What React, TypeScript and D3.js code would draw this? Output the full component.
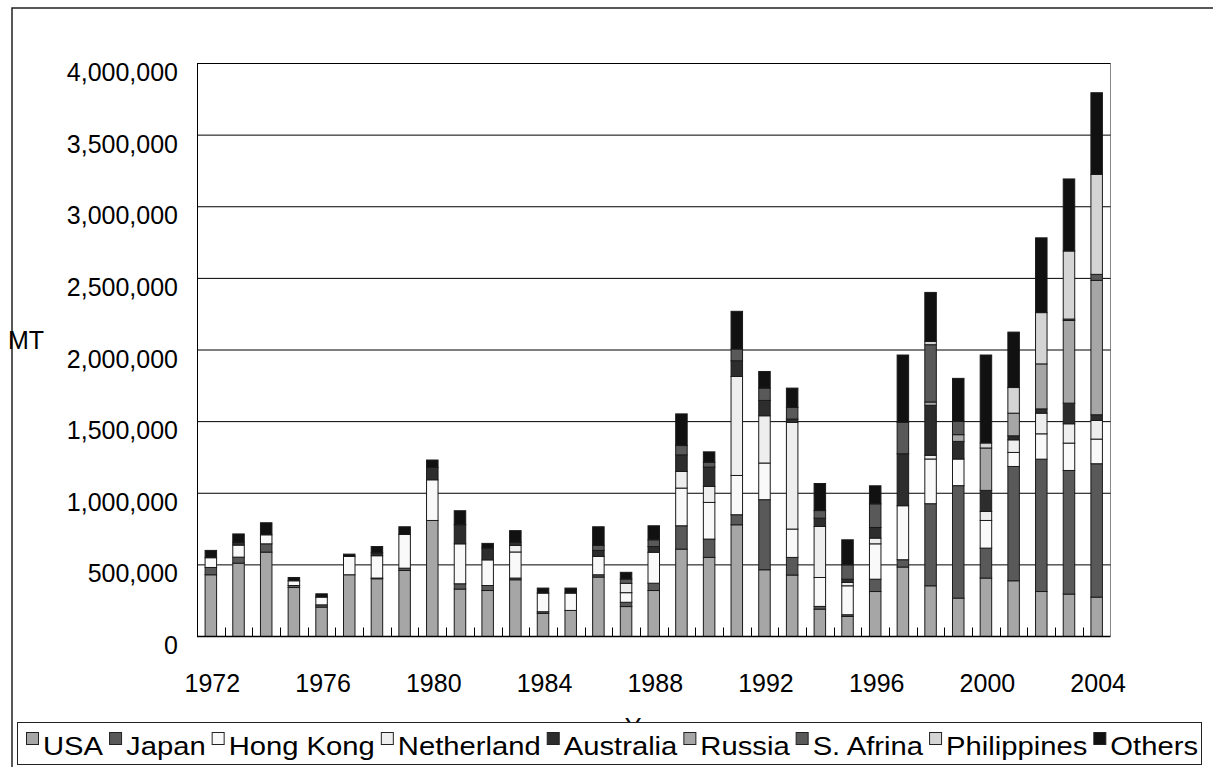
import React, { useRef, useEffect } from 'react';
import * as d3 from 'd3';

// years on the category axis
const years = d3.range(1972, 2005).map(String);
const yearLabels = ['1972', '1976', '1980', '1984', '1988', '1992', '1996', '2000', '2004'];
const yTicks = [0, 500000, 1000000, 1500000, 2000000, 2500000, 3000000, 3500000, 4000000];

const seriesNames = ['USA', 'Japan', 'Hong Kong', 'Netherland', 'Australia', 'Russia', 'S. Afrina', 'Philippines', 'Others'];
const seriesColors = ['#a6a6a6', '#595959', '#f9f9f9', '#eeeeee', '#2d2d2d', '#a6a6a6', '#595959', '#d4d4d4', '#111111'];

// values in MT, 1972..2004
const usa = [431000, 512000, 589000, 342000, 205000, 431000, 403000, 461000, 810000, 331000, 321000, 396000, 161000, 182000, 415000, 209000, 321000, 610000, 552000, 780000, 466000, 429000, 191000, 140000, 314000, 485000, 354000, 268000, 408000, 389000, 314000, 296000, 275000];
const japan = [51000, 42000, 58000, 14000, 16000, 0, 5000, 16000, 0, 37000, 35000, 12000, 12000, 0, 16000, 30000, 51000, 163000, 128000, 70000, 489000, 123000, 19000, 12000, 86000, 51000, 573000, 785000, 209000, 798000, 924000, 863000, 931000];
const hongKong = [68000, 84000, 63000, 33000, 54000, 128000, 156000, 235000, 284000, 279000, 179000, 182000, 130000, 121000, 128000, 67000, 216000, 263000, 256000, 274000, 256000, 198000, 202000, 202000, 247000, 377000, 312000, 186000, 193000, 98000, 177000, 191000, 172000];
const netherland = [0, 0, 0, 0, 0, 0, 0, 0, 0, 0, 0, 46000, 0, 0, 0, 65000, 0, 116000, 112000, 691000, 330000, 745000, 356000, 23000, 40000, 0, 26000, 0, 63000, 88000, 144000, 135000, 130000];
const australia = [0, 19000, 0, 0, 0, 0, 20000, 0, 86000, 133000, 82000, 21000, 0, 0, 42000, 0, 40000, 116000, 135000, 110000, 107000, 23000, 58000, 23000, 74000, 363000, 349000, 123000, 147000, 28000, 30000, 144000, 40000];
const russia = [0, 0, 0, 0, 0, 0, 0, 0, 0, 0, 0, 0, 0, 0, 0, 0, 0, 0, 0, 0, 0, 0, 0, 0, 0, 0, 23000, 47000, 296000, 158000, 314000, 577000, 938000];
const sAfrina = [0, 0, 0, 0, 0, 0, 0, 0, 0, 0, 0, 0, 0, 0, 35000, 30000, 47000, 65000, 33000, 82000, 86000, 81000, 53000, 100000, 165000, 219000, 400000, 93000, 0, 0, 0, 10000, 42000];
const philippines = [0, 0, 0, 0, 0, 0, 0, 0, 0, 0, 0, 0, 0, 0, 0, 0, 0, 0, 0, 0, 0, 0, 0, 0, 0, 0, 23000, 0, 35000, 179000, 358000, 475000, 698000];
const others = [51000, 59000, 84000, 23000, 23000, 16000, 44000, 54000, 52000, 98000, 33000, 82000, 35000, 35000, 130000, 47000, 98000, 221000, 73000, 263000, 116000, 135000, 189000, 175000, 126000, 470000, 342000, 300000, 614000, 387000, 522000, 503000, 570000];

const seriesValues = [usa, japan, hongKong, netherland, australia, russia, sAfrina, philippines, others];

const W = 1213;
const H = 767;
const FONT = '"Liberation Sans", Arial, sans-serif';

const App = () => {
  const svgRef = useRef<SVGSVGElement>(null);

  useEffect(() => {
    const svg = d3.select(svgRef.current);
    svg.selectAll('*').remove();

    const x = d3.scaleBand().domain(years).range([197, 1110.5]);
    const y = d3.scaleLinear().domain([0, 4000000]).range([636.5, 63.5]);

    // table for the stack
    const table = years.map((yr, i) => {
      const row: any = { year: yr };
      seriesNames.forEach((n, k) => { row[n] = seriesValues[k][i]; });
      return row;
    });
    const stacked = d3.stack().keys(seriesNames)(table);

    // outer chart frame
    svg.append('path')
      .attr('d', `M12,${H} L12,8 L${W},8`)
      .attr('fill', 'none')
      .attr('stroke', '#222')
      .attr('stroke-width', 1.5);

    // plot area border (right side)
    svg.append('line')
      .attr('x1', 1110.5).attr('x2', 1110.5)
      .attr('y1', y(4000000)).attr('y2', y(0))
      .attr('stroke', '#888');

    // gridlines
    svg.append('g')
      .selectAll('line')
      .data(yTicks.slice(1))
      .enter()
      .append('line')
      .attr('x1', 197).attr('x2', 1110.5)
      .attr('y1', d => y(d)).attr('y2', d => y(d))
      .attr('stroke', '#000');

    // y tick labels
    svg.append('g')
      .selectAll('text')
      .data(yTicks)
      .enter()
      .append('text')
      .attr('x', 178)
      .attr('y', d => y(d) + 17.5)
      .attr('text-anchor', 'end')
      .attr('font-family', FONT)
      .attr('font-size', 25)
      .attr('fill', '#000')
      .text(d => d3.format(',')(d));

    // bars
    const bw = 11.5;
    svg.append('g')
      .selectAll('g')
      .data(stacked)
      .enter()
      .append('g')
      .attr('fill', (d, i) => seriesColors[i])
      .selectAll('rect')
      .data(d => d.filter(s => s[1] - s[0] > 0))
      .enter()
      .append('rect')
      .attr('x', (d: any) => x(d.data.year)! + x.bandwidth() / 2 - bw / 2)
      .attr('width', bw)
      .attr('y', d => y(d[1]))
      .attr('height', d => y(d[0]) - y(d[1]))
      .attr('stroke', '#1a1a1a')
      .attr('stroke-width', 1);

    // y axis and x axis lines
    svg.append('line')
      .attr('x1', 197.5).attr('x2', 197.5)
      .attr('y1', y(4000000)).attr('y2', y(0))
      .attr('stroke', '#000');
    svg.append('line')
      .attr('x1', 197).attr('x2', 1110.5)
      .attr('y1', y(0)).attr('y2', y(0))
      .attr('stroke', '#000')
      .attr('stroke-width', 1.5);

    // category ticks, pointing up between bars
    svg.append('g')
      .selectAll('line')
      .data(years.slice(1))
      .enter()
      .append('line')
      .attr('x1', d => Math.round(x(d)!) + 0.5)
      .attr('x2', d => Math.round(x(d)!) + 0.5)
      .attr('y1', y(0))
      .attr('y2', y(0) - 9)
      .attr('stroke', '#000');

    // x tick labels
    svg.append('g')
      .selectAll('text')
      .data(yearLabels)
      .enter()
      .append('text')
      .attr('x', d => x(d)! + x.bandwidth() / 2 + 1.5)
      .attr('y', 692)
      .attr('text-anchor', 'middle')
      .attr('font-family', FONT)
      .attr('font-size', 25)
      .text(d => d);

    // axis titles
    svg.append('text')
      .attr('x', 8).attr('y', 349)
      .attr('font-family', FONT)
      .attr('font-size', 25)
      .text('MT');
    svg.append('text')
      .attr('x', 650).attr('y', 736)
      .attr('text-anchor', 'middle')
      .attr('font-family', FONT)
      .attr('font-size', 25)
      .text('Year');

    // legend
    const legend = svg.append('g');
    legend.append('rect')
      .attr('x', 17.5).attr('y', 722.5)
      .attr('width', 1184).attr('height', 42)
      .attr('fill', '#fff')
      .attr('stroke', '#222');

    const texts = legend.selectAll('text.lg')
      .data(seriesNames)
      .enter()
      .append('text')
      .attr('class', 'lg')
      .attr('y', 755)
      .attr('font-family', FONT)
      .attr('font-size', 25)
      .text(d => d);

    const widths: number[] = [];
    texts.each(function () { widths.push((this as SVGTextElement).getComputedTextLength()); });
    const sq = 12, gapIn = 5, gapOut = 6;
    const left = 26, right = 1198;
    const fixed = seriesNames.length * (sq + gapIn) + (seriesNames.length - 1) * gapOut;
    const k = (right - left - fixed) / d3.sum(widths);

    let cx = left;
    seriesNames.forEach((n, i) => {
      legend.append('rect')
        .attr('x', cx + 0.5).attr('y', 732.5)
        .attr('width', sq).attr('height', sq)
        .attr('fill', seriesColors[i])
        .attr('stroke', '#222');
      const w = widths[i] * k;
      texts.filter(d => d === n)
        .attr('x', cx + sq + gapIn)
        .attr('textLength', w)
        .attr('lengthAdjust', 'spacingAndGlyphs');
      cx += sq + gapIn + w + gapOut;
    });
  }, []);

  return (
    <svg
      ref={svgRef}
      width={W}
      height={H}
      style={{ position: 'absolute', left: 0, top: 0, display: 'block', background: '#fff' }}
    />
  );
};

export default App;
